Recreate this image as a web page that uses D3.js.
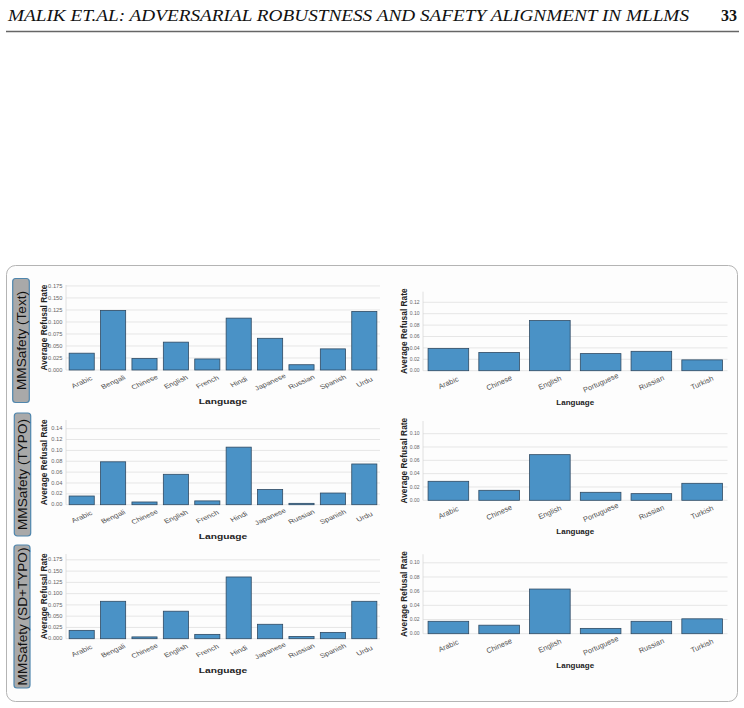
<!DOCTYPE html>
<html>
<head>
<meta charset="utf-8">
<script src="https://cdn.jsdelivr.net/npm/d3@7"></script>
<style>
  body { margin: 0; background: #fff; }
  svg { display: block; font-family: "Liberation Sans", Arial, sans-serif; }
</style>
</head>
<body>
<svg id="fig" width="744" height="708"></svg>
<script>
// ...............................
// data

var langs10 = ["Arabic", "Bengali", "Chinese", "English", "French", "Hindi",
               "Japanese", "Russian", "Spanish", "Urdu"];
var langs6 = ["Arabic", "Chinese", "English", "Portuguese", "Russian", "Turkish"];

var textLeft  = [0.035, 0.124, 0.024, 0.058, 0.023, 0.108, 0.066, 0.011, 0.044, 0.122];
var textRight = [0.039, 0.032, 0.088, 0.030, 0.034, 0.019];
var typoLeft  = [0.016, 0.079, 0.005, 0.056, 0.007, 0.106, 0.028, 0.0025, 0.0215, 0.075];
var typoRight = [0.0285, 0.015, 0.0685, 0.012, 0.010, 0.0255];
var sdLeft    = [0.0185, 0.083, 0.004, 0.061, 0.0096, 0.137, 0.032, 0.005, 0.014, 0.083];
var sdRight   = [0.0175, 0.012, 0.063, 0.0075, 0.0175, 0.021];

var rowNames = ["MMSafety (Text)", "MMSafety (TYPO)", "MMSafety (SD+TYPO)"];

// y-axis ticks for each panel
var ticksTextLeft  = [0, 0.025, 0.05, 0.075, 0.1, 0.125, 0.15, 0.175];
var ticksTextRight = [0, 0.02, 0.04, 0.06, 0.08, 0.1, 0.12];
var ticksTypoLeft  = [0, 0.02, 0.04, 0.06, 0.08, 0.1, 0.12, 0.14];
var ticksTypoRight = [0, 0.02, 0.04, 0.06, 0.08, 0.1];
var ticksSdLeft    = [0, 0.025, 0.05, 0.075, 0.1, 0.125, 0.15, 0.175];
var ticksSdRight   = [0, 0.02, 0.04, 0.06, 0.08, 0.1];

// y-axis upper limits
var yMaxes = [0.177, 0.1386, 0.156, 0.119, 0.188, 0.112];

var colour_bar = "#4a92c6", colour_barEdge = "#2f4a63";
var colour_grid = "#e6e6e6", colour_tick = "#666";

var svg = d3.select("#fig");

// ...............................
// page header

svg.append("text")
  .attr("x", 8).attr("y", 21)
  .attr("textLength", 681).attr("lengthAdjust", "spacingAndGlyphs")
  .style("font-family", "'Liberation Serif', 'Times New Roman', serif")
  .style("font-style", "italic").style("font-size", "16px").attr("fill", "#111")
  .text("MALIK ET.AL: ADVERSARIAL ROBUSTNESS AND SAFETY ALIGNMENT IN MLLMS");

svg.append("text")
  .attr("x", 737).attr("y", 21).attr("text-anchor", "end")
  .style("font-family", "'Liberation Serif', 'Times New Roman', serif")
  .style("font-weight", "bold").style("font-size", "16px").attr("fill", "#111")
  .text("33");

svg.append("line")
  .attr("x1", 6).attr("x2", 739).attr("y1", 31.5).attr("y2", 31.5)
  .attr("stroke", "#666").attr("stroke-width", 1.3);

// figure frame
svg.append("rect")
  .attr("x", 6.5).attr("y", 265.5).attr("width", 731).attr("height", 436)
  .attr("rx", 9)
  .attr("fill", "#fdfdfd").attr("stroke", "#b4b4b4").attr("stroke-width", 1);

// row label boxes
var boxes = [[12.7, 278.5, 16.6, 124], [14.3, 413, 16.4, 123], [14, 545, 16, 143]];
boxes.forEach(function (b, i) {
  svg.append("rect")
    .attr("x", b[0]).attr("y", b[1]).attr("width", b[2]).attr("height", b[3])
    .attr("rx", 3)
    .attr("fill", "#a9a9a9").attr("stroke", "#4f86ad").attr("stroke-width", 1.2);
  svg.append("text")
    .attr("transform", "translate(" + (b[0] + b[2] / 2 + 4.8) + "," + (b[1] + b[3] / 2) + ") rotate(-90)")
    .attr("text-anchor", "middle")
    .style("font-size", "13.6px").attr("fill", "#111")
    .text(rowNames[i]);
});

// ...............................
// bar charts

function drawPanel(p) {
  var g = svg.append("g");

  var x = d3.scaleBand().domain(p.cats).range([p.x0, p.x1])
            .paddingInner(0.2).paddingOuter(0.1);
  var y = d3.scaleLinear().domain([0, p.yMax]).range([p.yBase, p.yTop]);

  // gridlines
  g.selectAll(".grid").data(p.ticks).enter()
    .append("line")
      .attr("x1", p.x0).attr("x2", p.x1)
      .attr("y1", function (d) { return y(d); })
      .attr("y2", function (d) { return y(d); })
      .attr("stroke", colour_grid).attr("stroke-width", 1);

  // left spine
  g.append("line")
    .attr("x1", p.x0).attr("x2", p.x0).attr("y1", p.yTop).attr("y2", p.yBase)
    .attr("stroke", "#d8d8d8").attr("stroke-width", 0.8);

  // y tick labels
  g.selectAll(".ytick").data(p.ticks).enter()
    .append("text")
      .attr("text-anchor", "end")
      .attr("transform", function (d) {
        return "translate(" + (p.x0 - 3.5) + "," + (y(d) + 1.6) + ") scale(" + p.sx + " 1)";
      })
      .style("font-size", p.tickSize + "px").attr("fill", colour_tick)
      .text(function (d) { return d3.format(p.fmt)(d); });

  // bars
  g.selectAll(".bar").data(p.vals).enter()
    .append("rect")
      .attr("x", function (d, i) { return x(p.cats[i]); })
      .attr("width", x.bandwidth())
      .attr("y", function (d) { return y(d); })
      .attr("height", function (d) { return p.yBase - y(d); })
      .attr("fill", colour_bar).attr("stroke", colour_barEdge).attr("stroke-width", 0.8);

  // x tick labels, rotated
  g.selectAll(".xtick").data(p.cats).enter()
    .append("text")
      .attr("text-anchor", "middle")
      .attr("transform", function (d) {
        var cx = x(d) + x.bandwidth() / 2;
        return "translate(" + cx + "," + (p.yBase + 12) + ") scale(" + p.sx + " 1) rotate(" + p.rot + ")";
      })
      .attr("dy", "0.35em")
      .style("font-size", p.labSize + "px").attr("fill", "#505050")
      .text(function (d) { return d; });

  // axis titles
  g.append("text")
    .attr("text-anchor", "middle")
    .attr("transform", "translate(" + ((p.x0 + p.x1) / 2) + "," + (p.yBase + 34) + ") scale(" + p.sx + " 1)")
    .style("font-size", "8px").style("font-weight", "bold").attr("fill", "#222")
    .text("Language");

  g.append("text")
    .attr("text-anchor", "middle")
    .attr("transform", "translate(" + (p.titleX + 3) + "," + ((p.yTop + p.yBase) / 2) + ") rotate(-90)")
    .style("font-size", "8.4px").style("font-weight", "bold").attr("fill", "#222")
    .text("Average Refusal Rate");
}

var panels = [
  { cats: langs10, vals: textLeft,  ticks: ticksTextLeft,  yMax: yMaxes[0], fmt: ".3f",
    x0: 66, x1: 380, yTop: 285, yBase: 370, titleX: 43.7 },
  { cats: langs6,  vals: textRight, ticks: ticksTextRight, yMax: yMaxes[1], fmt: ".2f",
    x0: 423, x1: 727.5, yTop: 291.7, yBase: 370.7, titleX: 404.3 },
  { cats: langs10, vals: typoLeft,  ticks: ticksTypoLeft,  yMax: yMaxes[2], fmt: ".2f",
    x0: 66, x1: 380, yTop: 420, yBase: 504.7, titleX: 43.7 },
  { cats: langs6,  vals: typoRight, ticks: ticksTypoRight, yMax: yMaxes[3], fmt: ".2f",
    x0: 423, x1: 727.5, yTop: 421, yBase: 500.3, titleX: 404.3 },
  { cats: langs10, vals: sdLeft,    ticks: ticksSdLeft,    yMax: yMaxes[4], fmt: ".3f",
    x0: 66, x1: 380, yTop: 554, yBase: 638.7, titleX: 43.7 },
  { cats: langs6,  vals: sdRight,   ticks: ticksSdRight,   yMax: yMaxes[5], fmt: ".2f",
    x0: 423, x1: 727.5, yTop: 554.3, yBase: 633.7, titleX: 404.3 }
];

// left column is stretched sideways in the source figure
panels.forEach(function (p, i) {
  var wide = (i % 2 === 0);
  p.sx = wide ? 1.28 : 1;
  p.rot = wide ? -30 : -24;
  p.labSize = wide ? 6.3 : 7.4;
  p.tickSize = wide ? 4.5 : 5;
  drawPanel(p);
});
</script>
</body>
</html>
